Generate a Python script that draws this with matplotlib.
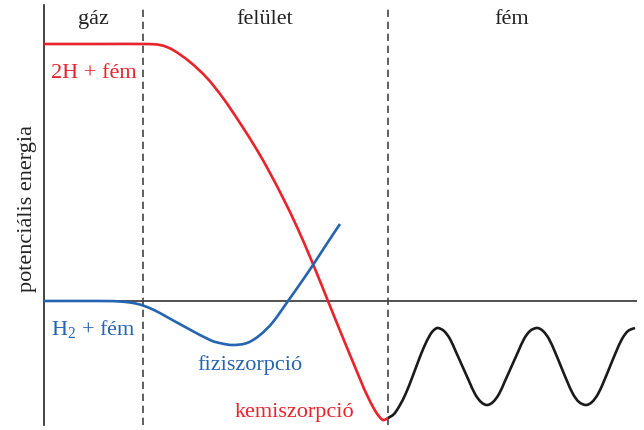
import matplotlib
matplotlib.use("Agg")
import matplotlib.pyplot as plt
import numpy as np
from matplotlib.path import Path
from matplotlib.patches import PathPatch

plt.rcParams['font.family'] = ['Liberation Serif', 'DejaVu Serif']
plt.rcParams['mathtext.fontset'] = 'custom'
plt.rcParams['mathtext.rm'] = 'Liberation Serif'

# Data (x = position, E = potential energy; zero level = H2 + metal)
region_labels = ["gáz", "felület", "fém"]
region_label_x = [49, 221, 468]
region_bounds = [99, 344]

red_x = [0, 56, 99, 116, 129, 146, 163, 179, 196, 213, 226, 239, 253, 269, 286,
         299, 316, 322, 329, 334, 339, 344]
red_E = [257, 257, 257, 256, 251, 239, 223, 203, 178, 151, 128, 103, 74, 37, -5,
         -37, -78, -92, -106, -114, -119, -117]

blue_x = [0, 56, 76, 89, 99, 111, 123, 143, 166, 178, 189, 203, 216, 229, 244,
          256, 269, 282, 296]
blue_E = [0, 0, -0.5, -2, -4.5, -9.5, -16, -27, -39, -42.5, -44, -42, -34, -21, 0,
          17, 36, 56, 77]

metal_x = [344, 350, 356, 362, 368, 374, 380, 386, 390, 394, 400, 406, 412, 418.5,
           425, 431, 437, 443, 449, 455, 461, 467.5, 474, 480, 486, 493, 499, 505,
           511, 517, 523, 529, 535, 542, 548, 554, 560, 566, 572, 578, 584, 591]
metal_E = [-117, -113, -104, -92, -77, -61, -46, -34, -29, -27, -30, -38, -51, -65.5,
           -80, -93, -101, -104, -101, -93, -80, -65.5, -51, -38, -30, -27, -30, -38,
           -51, -65.5, -80, -93, -101, -104, -101, -93, -80, -65.5, -51, -38, -30, -27]


def smooth_path(xs, ys):
    """Catmull-Rom curve through the points, drawn as cubic Bezier segments."""
    P = np.column_stack([xs, ys]).astype(float)
    n = len(P)
    verts = [P[0]]
    codes = [Path.MOVETO]
    for i in range(n - 1):
        p0 = P[i - 1] if i > 0 else P[i]
        p1 = P[i]
        p2 = P[i + 1]
        p3 = P[i + 2] if i + 2 < n else P[i + 1]
        c1 = p1 + (p2 - p0) / 6.0
        c2 = p2 - (p3 - p1) / 6.0
        verts += [c1, c2, p2]
        codes += [Path.CURVE4] * 3
    return Path(verts, codes)


W, H = 644, 430
fig = plt.figure(figsize=(W / 100, H / 100), dpi=100)
ax = fig.add_axes([44 / W, 5 / H, 593 / W, 420 / H])
ax.set_xlim(0, 593)
ax.set_ylim(-124, 296)
for s in ['top', 'right', 'bottom']:
    ax.spines[s].set_visible(False)
ax.spines['left'].set_linewidth(1.2)
ax.spines['left'].set_color('#222222')
ax.set_xticks([])
ax.set_yticks([])

ax.axhline(0, color='#222222', lw=1.1, zorder=1)
for b in region_bounds:
    ax.axvline(b, color='#444444', lw=1.2, linestyle=(0, (4.4, 2.8)), zorder=1)

red = '#e8232b'
blue = '#2464b0'
for xs, ys, col in [(red_x, red_E, red), (blue_x, blue_E, blue), (metal_x, metal_E, '#1a1a1a')]:
    ax.add_patch(PathPatch(smooth_path(xs, ys), facecolor='none', edgecolor=col,
                           lw=1.9, capstyle='butt', zorder=3))

fs = 16
for lab, xx in zip(region_labels, region_label_x):
    ax.text(xx, 301 - 24, lab, ha='center', va='baseline', fontsize=fs, color='#222222')

ax.text(50, 301 - 78, "2H + fém", ha='center', va='baseline', fontsize=fs, color=red)
ax.text(49, 301 - 335, r"H$_\mathrm{2}$ + fém", ha='center', va='baseline', fontsize=fs, color=blue)
ax.text(206, 301 - 370, "fiziszorpció", ha='center', va='baseline', fontsize=fs, color=blue)
ax.text(250, 301 - 417, "kemiszorpció", ha='center', va='baseline', fontsize=fs, color=red)

fig.text(28 / W, 1 - 208 / H, "potenciális energia", rotation=90, ha='center', va='center',
         fontsize=fs, color='#222222')

fig.savefig("out.png", dpi=100)
